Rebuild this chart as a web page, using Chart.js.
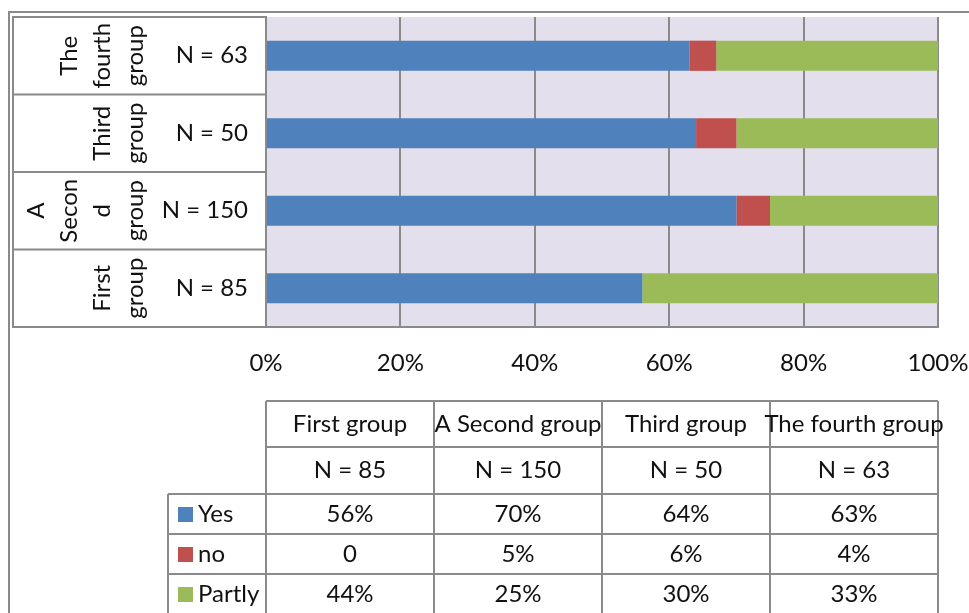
<!DOCTYPE html>
<html>
<head>
<meta charset="utf-8">
<script src="https://cdn.jsdelivr.net/npm/chart.js@4.4.0/dist/chart.umd.min.js"></script>
<style>
  html, body { margin: 0; padding: 0; background: #fff; }
  #wrap { width: 969px; height: 613px; position: relative; }
</style>
</head>
<body>
<div id="wrap"><canvas id="myChart"></canvas></div>
<script>
const groups = ['First group', 'A Second group', 'Third group', 'The fourth group'];
// wrapped the way the narrow axis column breaks them
const groupLines = [['First', 'group'], ['A', 'Secon', 'd', 'group'], ['Third', 'group'], ['The', 'fourth', 'group']];
const sampleSizes = ['N = 85', 'N = 150', 'N = 50', 'N = 63'];
const yes = [56, 70, 64, 63];
const no = [0, 5, 6, 4];
const partly = [44, 25, 30, 33];
const xTicks = [0, 20, 40, 60, 80, 100];

const FONT = 'Lato, "Open Sans", sans-serif';
const FONT_SIZE = 24;
const LINE = '#8a8a8a';
const TEXT = '#111';

const series = [
  { label: 'Yes', data: yes, color: '#4f81bd' },
  { label: 'no', data: no, color: '#c0504d' },
  { label: 'Partly', data: partly, color: '#9bbb59' },
];

const fmt = (v) => (v === 0 ? '0' : v + '%');

const frame = {
  id: 'frame',
  beforeDraw(chart) {
    const { ctx, chartArea: a } = chart;
    ctx.save();
    ctx.fillStyle = '#e4dfec';
    ctx.fillRect(a.left, a.top, a.right - a.left, a.bottom - a.top);
    ctx.restore();
  },
  afterDraw(chart) {
    const { ctx, chartArea: a } = chart;
    const y = chart.scales.y;
    ctx.save();
    ctx.strokeStyle = LINE;
    ctx.lineWidth = 2;

    // outer border
    ctx.beginPath();
    ctx.moveTo(969, 12); ctx.lineTo(9, 12); ctx.lineTo(9, 613);
    ctx.stroke();

    // box around the category labels
    const boxLeft = 13;
    ctx.beginPath();
    ctx.moveTo(a.left, a.top); ctx.lineTo(boxLeft, a.top);
    ctx.lineTo(boxLeft, a.bottom); ctx.lineTo(a.left, a.bottom);
    for (let i = 0; i < groups.length - 1; i++) {
      const b = (y.getPixelForValue(i) + y.getPixelForValue(i + 1)) / 2;
      ctx.moveTo(boxLeft, b); ctx.lineTo(a.left, b);
    }
    ctx.stroke();

    // rotated group names
    ctx.fillStyle = TEXT;
    ctx.font = FONT_SIZE + 'px ' + FONT;
    ctx.textAlign = 'center';
    ctx.textBaseline = 'middle';
    groupLines.forEach((lines, i) => {
      const cy = y.getPixelForValue(i);
      lines.forEach((t, k) => {
        const cx = 135 - (lines.length - 1 - k) * 33;
        ctx.save();
        ctx.translate(cx, cy);
        ctx.rotate(-Math.PI / 2);
        ctx.fillText(t, 0, 0);
        ctx.restore();
      });
    });

    // data table under the axis
    const cols = [a.left];
    groups.forEach((g, i) => cols.push(a.left + (a.right - a.left) * (i + 1) / groups.length));
    const legendLeft = 168;
    const rows = [401, 447, 494, 534, 574, 614];
    ctx.beginPath();
    rows.forEach((ry, r) => {
      ctx.moveTo(r < 2 ? a.left : legendLeft, ry);
      ctx.lineTo(a.right, ry);
    });
    cols.forEach((cx) => { ctx.moveTo(cx, rows[0]); ctx.lineTo(cx, rows[5]); });
    ctx.moveTo(legendLeft, rows[2]); ctx.lineTo(legendLeft, rows[5]);
    ctx.stroke();

    const mid = (r) => (rows[r] + rows[r + 1]) / 2;
    groups.forEach((g, i) => {
      const cx = (cols[i] + cols[i + 1]) / 2;
      ctx.fillText(g, cx, mid(0));
      ctx.fillText(sampleSizes[i], cx, mid(1));
      series.forEach((s, j) => ctx.fillText(fmt(s.data[i]), cx, mid(2 + j)));
    });
    series.forEach((s, j) => {
      const cy = mid(2 + j);
      ctx.fillStyle = s.color;
      ctx.fillRect(178, cy - 7, 15, 15);
      ctx.fillStyle = TEXT;
      ctx.textAlign = 'left';
      ctx.fillText(s.label, 198, cy);
    });
    ctx.restore();
  }
};

new Chart(document.getElementById('myChart'), {
  type: 'bar',
  data: {
    labels: groups,
    datasets: series.map((s) => ({
      label: s.label,
      data: s.data,
      backgroundColor: s.color,
      borderWidth: 0,
      barPercentage: 1,
      categoryPercentage: 0.39,
    })),
  },
  options: {
    indexAxis: 'y',
    responsive: true,
    maintainAspectRatio: false,
    animation: false,
    layout: { padding: { top: 17, left: 13, right: 31, bottom: 0 } },
    plugins: { legend: { display: false }, tooltip: { enabled: false } },
    scales: {
      x: {
        stacked: true,
        min: 0,
        max: 100,
        afterBuildTicks: (scale) => { scale.ticks = xTicks.map((v) => ({ value: v })); },
        afterFit: (scale) => {
          scale.height = 613 - 327;
          scale.paddingLeft = 0;
          scale.paddingRight = 0;
        },
        ticks: {
          callback: (v) => v + '%',
          font: { family: FONT, size: FONT_SIZE },
          color: TEXT,
          padding: 22,
          maxRotation: 0,
        },
        grid: { color: LINE, lineWidth: 2, drawTicks: false },
        border: { color: LINE, width: 2 },
      },
      y: {
        stacked: true,
        reverse: true,
        afterFit: (scale) => {
          scale.width = 253;
          scale.paddingTop = 0;
          scale.paddingBottom = 0;
        },
        ticks: {
          callback: (v, i) => sampleSizes[i],
          font: { family: FONT, size: FONT_SIZE },
          color: TEXT,
          padding: 18,
        },
        grid: { display: false, drawTicks: false },
        border: { color: LINE, width: 2 },
      },
    },
  },
  plugins: [frame],
});
</script>
</body>
</html>
